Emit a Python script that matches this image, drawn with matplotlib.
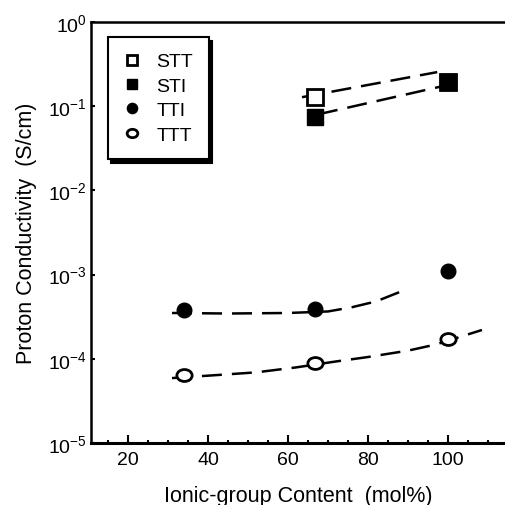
import matplotlib
matplotlib.use("Agg")
import matplotlib.pyplot as plt
from matplotlib.path import Path
from matplotlib.ticker import MultipleLocator, LogLocator, NullLocator

plt.rcParams['font.family'] = ['Liberation Sans', 'DejaVu Sans']
plt.rcParams['mathtext.fontset'] = 'custom'
plt.rcParams['mathtext.rm'] = 'Liberation Sans'
plt.rcParams['mathtext.it'] = 'Liberation Sans'

# measured points
stt_x = [66.7, 100]
stt_y = [0.13, 0.195]
sti_x = [66.7, 100]
sti_y = [0.075, 0.195]
tti_x = [34, 66.7, 100]
tti_y = [3.85e-4, 3.95e-4, 1.09e-3]
ttt_x = [34, 66.7, 100]
ttt_y = [6.5e-5, 8.9e-5, 1.73e-4]

# hand-drawn guide lines
stt_fit_x = [63.5, 97.3]
stt_fit_y = [0.128, 0.254]
sti_fit_x = [67.5, 103.5]
sti_fit_y = [0.080, 0.195]
tti_fit_x = [31, 45, 60, 70, 76, 82, 90]
tti_fit_y = [3.5e-4, 3.45e-4, 3.5e-4, 3.65e-4, 4.1e-4, 4.8e-4, 6.8e-4]
ttt_fit_x = [31, 42, 52, 62, 72, 80, 90, 97, 108.5]
ttt_fit_y = [5.9e-5, 6.4e-5, 6.9e-5, 7.9e-5, 9.3e-5, 1.05e-4, 1.25e-4, 1.48e-4, 2.2e-4]

ellipse = Path.unit_circle().transformed(
    matplotlib.transforms.Affine2D().scale(1.0, 0.78))

fig = plt.figure(figsize=(5.05, 5.06), dpi=100)
ax = fig.add_axes([91/505, 1-444/506, 1-91/505, 421/506])

dash = dict(color='black', lw=1.8, dashes=(8, 4))
ax.plot(stt_fit_x, stt_fit_y, **dash)
ax.plot(sti_fit_x, sti_fit_y, **dash)
ax.plot(tti_fit_x, tti_fit_y, **dash)
ax.plot(ttt_fit_x, ttt_fit_y, **dash)

ax.plot(stt_x, stt_y, 's', ms=11, mfc='white', mec='black', mew=2, label='STT')
ax.plot(sti_x, sti_y, 's', ms=11, mfc='black', mec='black', label='STI')
ax.plot(tti_x, tti_y, 'o', ms=10.5, mfc='black', mec='black', label='TTI')
ax.plot(ttt_x, ttt_y, ls='none', marker=ellipse, ms=11, mfc='white',
        mec='black', mew=2, label='TTT')

ax.set_yscale('log')
ax.set_xlim(10.75, 114.25)
ax.set_ylim(1e-5, 1)
ax.xaxis.set_major_locator(MultipleLocator(20))
ax.xaxis.set_minor_locator(MultipleLocator(5))
ax.yaxis.set_major_locator(LogLocator(base=10, numticks=10))
ax.yaxis.set_minor_locator(NullLocator())
ax.set_xticks([20, 40, 60, 80, 100])

ax.tick_params(axis='x', which='major', direction='in', length=6, width=1.5,
               labelsize=14, pad=6)
ax.tick_params(axis='x', which='minor', direction='in', length=2.5, width=1.5)
ax.tick_params(axis='y', which='major', direction='in', length=3, width=1.5,
               labelsize=14, pad=3)

ax.spines['right'].set_visible(False)
ax.spines['bottom'].set_linewidth(2.2)
ax.spines['left'].set_linewidth(1.8)
ax.spines['top'].set_linewidth(1.8)

ax.set_xlabel('Ionic-group Content  (mol%)', fontsize=15.5, labelpad=12)
ax.set_ylabel('Proton Conductivity  (S/cm)', fontsize=15.5, labelpad=8)

leg = ax.legend(loc='upper left', bbox_to_anchor=(0.041, 0.964), borderaxespad=0,
                fontsize=14, markerscale=0.7, frameon=True, fancybox=False,
                edgecolor='black', framealpha=1, handlelength=0.9,
                handletextpad=0.8, borderpad=0.8, labelspacing=0.35,
                shadow={'color': 'black', 'alpha': 1, 'ox': 2.5, 'oy': -2.5})
leg.get_frame().set_linewidth(1.5)

fig.savefig('out.png', dpi=100)
